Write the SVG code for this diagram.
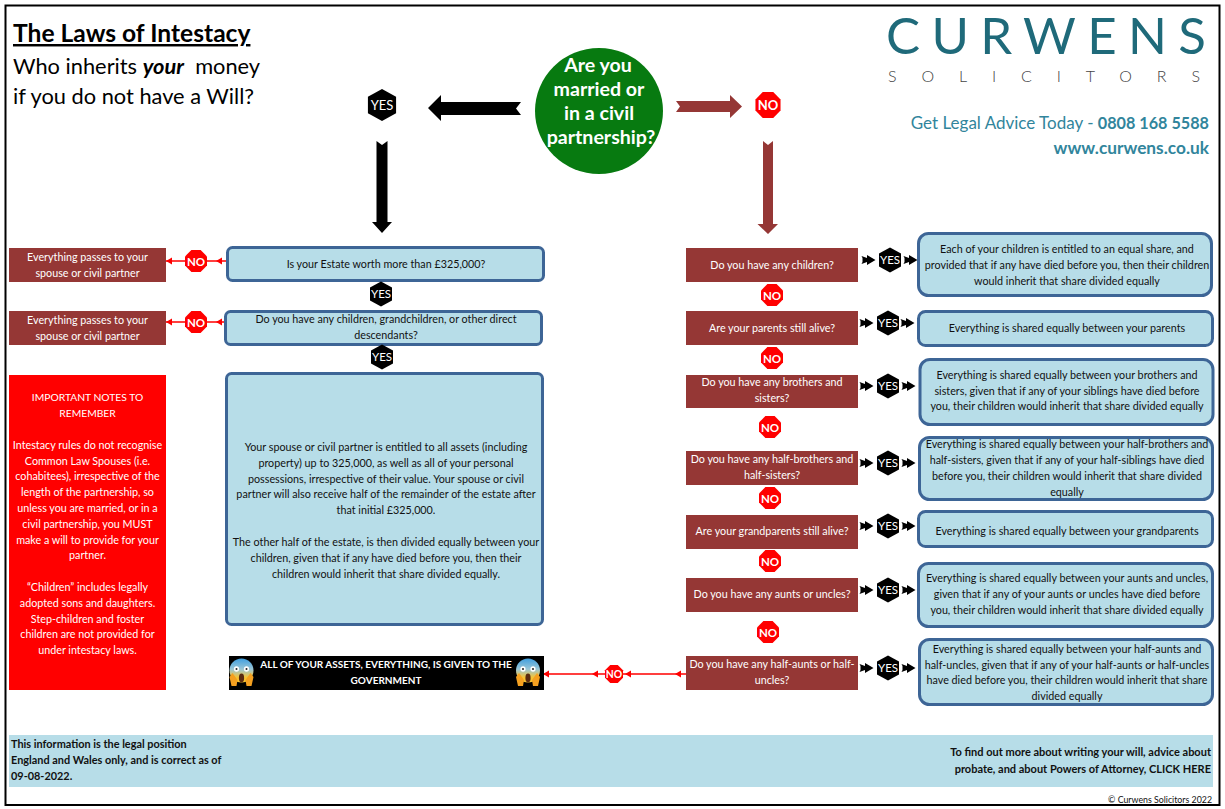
<svg xmlns="http://www.w3.org/2000/svg" width="1225" height="809" viewBox="0 0 1225 809">
<style>
text{font-family:"Lato","Carlito","Open Sans",sans-serif;text-anchor:middle}
.t{font-size:10.75px;fill:#111}
.w{font-size:10.75px;fill:#fff}
.b{font-weight:700}
.blue{fill:#b7dde8;stroke:#3d6596;stroke-width:3}
.brown{fill:#953735}
.lab{font-size:11.5px;fill:#fff}
.lab2{font-size:13px;fill:#fff}
.red{stroke:#ff0000;stroke-width:1.5;fill:none}
.l{text-anchor:start}
.r{text-anchor:end}
</style>
<defs>
<polygon id="hex" points="0,-12.5 11,-6.5 11,6.5 0,12.5 -11,6.5 -11,-6.5" fill="#000"/>
<polygon id="oct" points="-4.6,-11 4.6,-11 11,-4.6 11,4.6 4.6,11 -4.6,11 -11,4.6 -11,-4.6" fill="#ff0000"/>
<polygon id="ar" points="-6.5,-2 -7.5,-4 -2,-2 -2,-5 6.5,0 -2,5 -2,2 -7.5,4 -6.5,2" fill="#000"/>
<polygon id="rh" points="-5,0 1,-3.5 1,3.5" fill="#ff0000"/>
<linearGradient id="fear" x1="0" y1="0" x2="0" y2="1"><stop offset="0" stop-color="#3f9fe0"/><stop offset=".45" stop-color="#9cc7d6"/><stop offset=".8" stop-color="#f7c331"/></linearGradient>
<g id="emoji">
<ellipse cx="12" cy="12.5" rx="12" ry="12" fill="url(#fear)"/>
<ellipse cx="7" cy="11" rx="2.6" ry="2.8" fill="#fff"/><ellipse cx="17" cy="11" rx="2.6" ry="2.8" fill="#fff"/>
<circle cx="7" cy="11" r="1" fill="#222"/><circle cx="17" cy="11" r="1" fill="#222"/>
<ellipse cx="12" cy="20" rx="2.6" ry="4.4" fill="#5a2a10"/>
<path d="M0 19 L3 15 L8 22 L7 28 L2 28Z M24 19 L21 15 L16 22 L17 28 L22 28Z" fill="#f4a020"/>
</g>
</defs>
<rect width="1225" height="809" fill="#fff"/>
<rect x="5.500" y="5.500" width="1214" height="799.500" fill="none" stroke="#000" stroke-width="2"/>

<g id="title">
<text class="l b" x="13" y="42" font-size="24.6" fill="#000" text-decoration="underline">The Laws of Intestacy</text>
<text class="l" x="13" y="74" font-size="21.8" fill="#000">Who inherits <tspan font-weight="700" font-style="italic">your</tspan>&#160; money</text>
<text class="l" x="13" y="104" font-size="21.8" fill="#000">if you do not have a Will?</text>
</g>

<g id="logo">
<text class="l" x="886" y="54" font-size="51" fill="#1f6a7a" textLength="320">CURWENS</text>
<text class="l" x="888" y="82" font-size="16" font-weight="300" fill="#444" textLength="312">SOLICITORS</text>
<text class="r" x="1209" y="129" font-size="17" fill="#31859c">Get Legal Advice Today - <tspan font-weight="700" font-size="16.2">0808 168 5588</tspan></text>
<text class="r b" x="1209" y="154" font-size="17.3" fill="#31859c">www.curwens.co.uk</text>
</g>

<g id="connectors">
<polygon points="521,102 516,108.500 521,115 441,115 441,121 428,108 441,95 441,102" fill="#000"/>
<polygon points="376.500,141 382,145 387.500,141 387.500,222 392,222 382,233 372,222 376.500,222" fill="#000"/>
<polygon points="676,101 680,106.500 676,112 730,112 730,118 742,106.500 730,95 730,101" fill="#953735"/>
<polygon points="763,141 768,145 773,141 773,224 778,224 768,234 757.500,224 763,224" fill="#953735"/>
<path class="red" d="M166 261H227M166 322H225M544 674H686"/>
<use href="#rh" x="171" y="261"/><use href="#rh" x="221" y="261"/>
<use href="#rh" x="171" y="322"/><use href="#rh" x="221" y="322"/>
<use href="#rh" x="548" y="674"/><use href="#rh" x="597" y="674"/><use href="#rh" x="630" y="674"/><use href="#rh" x="680" y="674"/>
<g id="small-arrows">
<use href="#ar" x="869" y="260"/><use href="#ar" x="911" y="260"/>
<use href="#ar" x="867" y="323"/><use href="#ar" x="908" y="323"/>
<use href="#ar" x="867" y="386"/><use href="#ar" x="909" y="386"/>
<use href="#ar" x="867" y="463"/><use href="#ar" x="909" y="463"/>
<use href="#ar" x="867" y="526"/><use href="#ar" x="909" y="526"/>
<use href="#ar" x="867" y="590"/><use href="#ar" x="909" y="590"/>
<use href="#ar" x="867" y="668"/><use href="#ar" x="909" y="668"/>
</g>
</g>

<g id="start"><ellipse cx="599" cy="111" rx="64" ry="63" fill="#077a10"/>
<text class="b" x="598" y="72" font-size="19.6" fill="#fff">Are you</text>
<text class="b" x="599" y="96" font-size="19.6" fill="#fff">married or</text>
<text class="b" x="599" y="120" font-size="19.6" fill="#fff">in a civil</text>
<text class="b" x="601" y="144" font-size="19.6" fill="#fff">partnership?</text></g>

<g id="yes-main"><use href="#hex" transform="translate(382 105) scale(1.28)"/><text class="lab2" x="382" y="110">YES</text></g>
<g id="no-main"><use href="#oct" transform="translate(768 105) scale(1.14 1.18)"/><text class="lab2 b" x="768" y="110">NO</text></g>

<g id="pass-1"><rect class="brown" x="9" y="248" width="157" height="34"/><text class="w" x="87.500" y="261">Everything passes to your</text><text class="w" x="87.500" y="277">spouse or civil partner</text></g>
<g id="pass-2"><rect class="brown" x="9" y="311" width="157" height="34"/><text class="w" x="87.500" y="324">Everything passes to your</text><text class="w" x="87.500" y="340">spouse or civil partner</text></g>
<g id="no-l1"><use href="#oct" x="196" y="261"/><text class="lab b" x="196" y="265.500">NO</text></g>
<g id="no-l2"><use href="#oct" x="196" y="322"/><text class="lab b" x="196" y="326.500">NO</text></g>

<g id="q-estate"><rect class="blue" x="227.500" y="247.500" width="316" height="33" rx="5"/><text class="t" x="386" y="268">Is your Estate worth more than £325,000?</text></g>
<g id="yes-l1"><use href="#hex" x="381" y="294"/><text class="lab" x="381" y="298">YES</text></g>
<g id="q-desc"><rect class="blue" x="225.500" y="311.500" width="316" height="33" rx="5"/><text class="t" x="386" y="323">Do you have any children, grandchildren, or other direct</text><text class="t" x="386" y="339">descendants?</text></g>
<g id="yes-l2"><use href="#hex" x="382" y="357"/><text class="lab" x="382" y="361">YES</text></g>

<g id="spouse-share"><rect class="blue" x="226.500" y="373.500" width="316" height="251" rx="5"/>
<text class="t"><tspan x="386" y="451">Your spouse or civil partner is entitled to all assets (including</tspan><tspan x="386" y="467">property) up to 325,000, as well as all of your personal</tspan><tspan x="386" y="483">possessions, irrespective of their value. Your spouse or civil</tspan><tspan x="386" y="498">partner will also receive half of the remainder of the estate after</tspan><tspan x="386" y="514">that initial £325,000.</tspan><tspan x="386" y="546">The other half of the estate, is then divided equally between your</tspan><tspan x="386" y="562">children, given that if any have died before you, then their</tspan><tspan x="386" y="578">children would inherit that share divided equally.</tspan></text></g>

<g id="notes"><rect x="9" y="375" width="157" height="315" fill="#ff0000"/>
<text class="w"><tspan x="87.500" y="401" font-size="10.3">IMPORTANT NOTES TO</tspan><tspan x="87.500" y="417" font-size="10.3">REMEMBER</tspan><tspan x="87.500" y="449">Intestacy rules do not recognise</tspan><tspan x="87.500" y="465">Common Law Spouses (i.e.</tspan><tspan x="87.500" y="480">cohabitees), irrespective of the</tspan><tspan x="87.500" y="496">length of the partnership, so</tspan><tspan x="87.500" y="512">unless you are married, or in a</tspan><tspan x="87.500" y="528">civil partnership, you MUST</tspan><tspan x="87.500" y="544">make a will to provide for your</tspan><tspan x="87.500" y="559">partner.</tspan><tspan x="87.500" y="591">“Children” includes legally</tspan><tspan x="87.500" y="607">adopted sons and daughters.</tspan><tspan x="87.500" y="623">Step-children and foster</tspan><tspan x="87.500" y="638">children are not provided for</tspan><tspan x="87.500" y="654">under intestacy laws.</tspan></text></g>

<g id="government"><rect x="229" y="656" width="315" height="34" fill="#000"/>
<use href="#emoji" x="229.500" y="658"/><use href="#emoji" x="516" y="658"/>
<text class="b" x="386" y="668" font-size="10" fill="#fff">ALL OF YOUR ASSETS, EVERYTHING, IS GIVEN TO THE</text><text class="b" x="386" y="684" font-size="10" fill="#fff">GOVERNMENT</text></g>
<g id="no-gov"><use href="#oct" transform="translate(614 674) scale(.82)"/><text class="b" x="614" y="678" font-size="10.4" fill="#fff">NO</text></g>

<g id="q1"><rect class="brown" x="686" y="248" width="172" height="34"/><text class="w" x="772" y="268.500">Do you have any children?</text></g>
<g id="q2"><rect class="brown" x="686" y="311" width="172" height="34"/><text class="w" x="772" y="331.500">Are your parents still alive?</text></g>
<g id="q3"><rect class="brown" x="686" y="375" width="172" height="33"/><text class="w" x="772" y="386">Do you have any brothers and</text><text class="w" x="772" y="402">sisters?</text></g>
<g id="q4"><rect class="brown" x="686" y="451" width="172" height="34"/><text class="w" x="772" y="463">Do you have any half-brothers and</text><text class="w" x="772" y="479">half-sisters?</text></g>
<g id="q5"><rect class="brown" x="686" y="515" width="172" height="34"/><text class="w" x="772" y="535">Are your grandparents still alive?</text></g>
<g id="q6"><rect class="brown" x="686" y="578" width="172" height="34"/><text class="w" x="772" y="598">Do you have any aunts or uncles?</text></g>
<g id="q7"><rect class="brown" x="686" y="656" width="172" height="34"/><text class="w" x="772" y="668">Do you have any half-aunts or half-</text><text class="w" x="772" y="684">uncles?</text></g>

<g id="no1"><use href="#oct" x="772" y="295"/><text class="lab b" x="772" y="299.500">NO</text></g>
<g id="no2"><use href="#oct" x="772" y="358"/><text class="lab b" x="772" y="362.500">NO</text></g>
<g id="no3"><use href="#oct" x="770" y="427"/><text class="lab b" x="770" y="431.500">NO</text></g>
<g id="no4"><use href="#oct" x="770" y="498"/><text class="lab b" x="770" y="502.500">NO</text></g>
<g id="no5"><use href="#oct" x="770" y="561"/><text class="lab b" x="770" y="565.500">NO</text></g>
<g id="no6"><use href="#oct" x="768" y="632"/><text class="lab b" x="768" y="636.500">NO</text></g>

<g id="yes1"><use href="#hex" x="890" y="260"/><text class="lab" x="890" y="264">YES</text></g>
<g id="yes2"><use href="#hex" x="888" y="323"/><text class="lab" x="888" y="327">YES</text></g>
<g id="yes3"><use href="#hex" x="888" y="386"/><text class="lab" x="888" y="390">YES</text></g>
<g id="yes4"><use href="#hex" x="888" y="463"/><text class="lab" x="888" y="467">YES</text></g>
<g id="yes5"><use href="#hex" x="888" y="526"/><text class="lab" x="888" y="530">YES</text></g>
<g id="yes6"><use href="#hex" x="888" y="590"/><text class="lab" x="888" y="594">YES</text></g>
<g id="yes7"><use href="#hex" x="888" y="668"/><text class="lab" x="888" y="672">YES</text></g>

<g id="a1"><rect class="blue" x="918.500" y="233.500" width="293" height="62" rx="10"/><text class="t"><tspan x="1067" y="253">Each of your children is entitled to an equal share, and</tspan><tspan x="1067" y="269">provided that if any have died before you, then their children</tspan><tspan x="1067" y="285">would inherit that share divided equally</tspan></text></g>
<g id="a2"><rect class="blue" x="918.500" y="311.500" width="294" height="34" rx="7"/><text class="t" x="1067" y="332">Everything is shared equally between your parents</text></g>
<g id="a3"><rect class="blue" x="920" y="359.500" width="293" height="65" rx="10"/><text class="t"><tspan x="1067" y="379">Everything is shared equally between your brothers and</tspan><tspan x="1067" y="395">sisters, given that if any of your siblings have died before</tspan><tspan x="1067" y="410">you, their children would inherit that share divided equally</tspan></text></g>
<g id="a4"><rect class="blue" x="919.500" y="437.500" width="293" height="62" rx="10"/><text class="t"><tspan x="1067" y="448">Everything is shared equally between your half-brothers and</tspan><tspan x="1067" y="464">half-sisters, given that if any of your half-siblings have died</tspan><tspan x="1067" y="480">before you, their children would inherit that share divided</tspan><tspan x="1067" y="496">equally</tspan></text></g>
<g id="a5"><rect class="blue" x="918.500" y="511.500" width="294" height="35" rx="7"/><text class="t" x="1067" y="535">Everything is shared equally between your grandparents</text></g>
<g id="a6"><rect class="blue" x="918.500" y="563.500" width="294" height="63" rx="10"/><text class="t"><tspan x="1067" y="582">Everything is shared equally between your aunts and uncles,</tspan><tspan x="1067" y="598">given that if any of your aunts or uncles have died before</tspan><tspan x="1067" y="614">you, their children would inherit that share divided equally</tspan></text></g>
<g id="a7"><rect class="blue" x="919.500" y="639.500" width="293" height="65" rx="10"/><text class="t"><tspan x="1067" y="653">Everything is shared equally between your half-aunts and</tspan><tspan x="1067" y="669">half-uncles, given that if any of your half-aunts or half-uncles</tspan><tspan x="1067" y="684">have died before you, their children would inherit that share</tspan><tspan x="1067" y="700">divided equally</tspan></text></g>

<g id="footer"><rect x="9" y="735" width="1204" height="52" fill="#b7dde8"/>
<text class="b l" font-size="10.9" fill="#111"><tspan x="11" y="748">This information is the legal position</tspan><tspan x="11" y="764">England and Wales only, and is correct as of</tspan><tspan x="11" y="780">09-08-2022.</tspan></text>
<text class="b r" font-size="11" fill="#111"><tspan x="1211" y="756">To find out more about writing your will, advice about</tspan><tspan x="1211" y="773">probate, and about Powers of Attorney, CLICK HERE</tspan></text>
<text class="r" x="1212" y="803" font-size="8.8" fill="#111">© Curwens Solicitors 2022</text></g>
</svg>
